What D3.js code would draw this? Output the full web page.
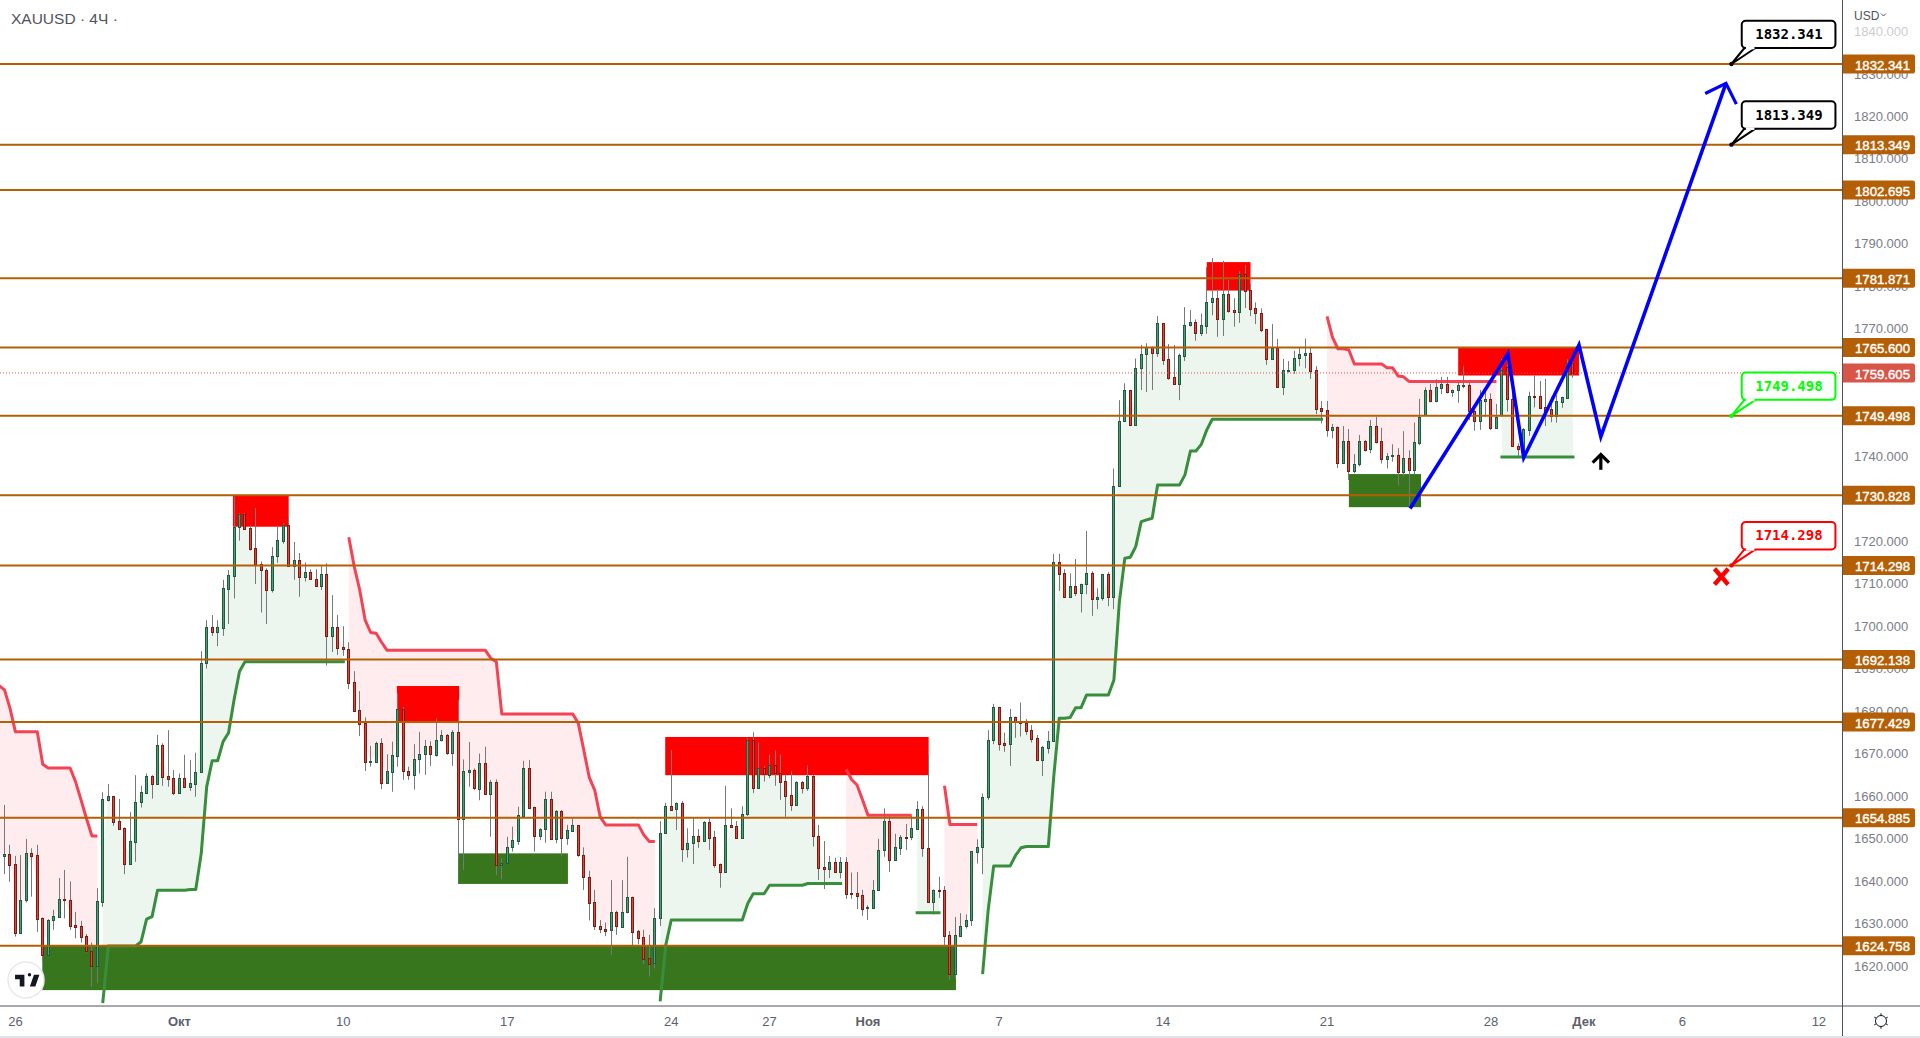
<!DOCTYPE html>
<html><head><meta charset="utf-8">
<script src="https://cdn.jsdelivr.net/npm/d3@7/dist/d3.min.js"></script>
<style>html,body{margin:0;padding:0;background:#fff;overflow:hidden}svg{display:block}</style>
</head><body><svg id="c" width="1920" height="1038"></svg>
<script>
const opens=[1645.9,1646.3,1643.9,1627.8,1635.4,1646.5,1646.1,1631.2,1622.6,1630.7,
1631.5,1635.7,1635.4,1629.6,1629.3,1627.0,1623.4,1620.0,1635.1,1659.1,
1659.9,1654.0,1652.4,1644.1,1649.2,1658.7,1660.8,1664.6,1662.9,1671.9,
1664.6,1664.2,1660.8,1664.2,1662.2,1662.9,1665.6,1691.2,1699.7,1698.7,
1699.6,1708.8,1711.9,1723.3,1726.3,1723.0,1718.3,1714.7,1713.1,1708.6,
1716.4,1720.1,1723.7,1714.1,1715.5,1711.6,1712.7,1711.0,1709.5,1712.2,
1697.7,1699.9,1695.0,1694.5,1686.8,1680.2,1677.1,1667.9,1668.1,1672.4,
1663.1,1665.7,1669.5,1680.6,1666.0,1665.0,1668.6,1669.9,1671.7,1669.6,
1673.1,1674.3,1670.2,1675.0,1654.5,1665.7,1666.1,1661.7,1667.7,1660.5,
1663.2,1643.7,1644.3,1648.1,1649.4,1655.4,1666.5,1657.3,1650.7,1652.2,
1659.4,1649.9,1656.4,1650.2,1651.8,1653.1,1646.2,1640.9,1635.0,1629.5,
1628.8,1628.4,1632.8,1629.2,1632.6,1636.2,1628.2,1626.7,1621.8,1620.6,
1631.2,1651.4,1657.6,1656.9,1658.3,1647.6,1649.0,1650.5,1649.5,1653.8,
1650.3,1643.9,1642.2,1653.1,1652.9,1650.2,1655.7,1673.1,1662.0,1666.5,
1665.0,1667.2,1665.3,1663.5,1660.2,1658.0,1663.2,1662.0,1664.6,1650.5,
1643.2,1642.7,1644.4,1642.2,1644.4,1637.2,1637.1,1636.6,1633.6,1633.7,
1637.8,1647.4,1654.0,1645.0,1647.8,1650.4,1650.3,1652.3,1656.9,1647.7,
1635.1,1637.9,1637.8,1627.2,1618.2,1627.1,1629.5,1630.7,1646.9,1647.9,
1659.7,1673.3,1680.9,1672.4,1672.2,1678.5,1677.7,1677.2,1675.5,1673.6,
1668.4,1671.4,1673.0,1715.0,1712.4,1706.9,1709.4,1707.9,1710.0,1712.4,
1706.5,1706.7,1712.2,1706.9,1733.1,1748.4,1755.5,1747.4,1760.7,1764.0,
1765.6,1764.4,1771.3,1762.8,1758.6,1757.1,1763.7,1770.8,1771.5,1769.1,
1770.7,1776.2,1777.2,1772.4,1778.1,1774.4,1774.0,1782.8,1779.1,1774.8,
1773.6,1769.9,1763.0,1765.5,1756.4,1760.1,1760.4,1763.1,1763.9,1764.2,
1760.2,1751.3,1750.8,1746.2,1746.8,1738.5,1743.5,1736.6,1738.1,1743.5,
1741.6,1747.0,1743.5,1739.4,1740.0,1740.2,1736.4,1739.5,1736.8,1743.2,
1749.6,1755.6,1753.1,1756.1,1756.9,1755.2,1755.6,1756.6,1756.8,1750.7,
1748.4,1753.1,1753.4,1746.7,1749.6,1761.1,1753.4,1742.5,1739.9,1746.2,
1754.2,1754.1,1751.5,1751.1,1749.5,1752.8,1753.8,1761.9];
const closes=[1646.3,1643.8,1627.8,1635.4,1646.5,1645.9,1631.1,1622.6,1630.8,1631.7,
1635.7,1635.4,1629.5,1629.2,1626.9,1623.4,1620.0,1635.2,1659.2,1659.9,
1653.9,1652.3,1644.1,1649.3,1658.7,1660.9,1664.6,1662.9,1671.9,1664.5,
1664.1,1660.8,1664.2,1662.2,1663.0,1665.6,1691.3,1699.8,1698.7,1699.7,
1708.9,1712.0,1723.3,1726.3,1722.9,1718.2,1714.6,1713.1,1708.6,1716.4,
1720.2,1723.7,1714.1,1715.5,1711.6,1712.7,1711.0,1709.5,1712.2,1697.7,
1699.9,1694.9,1694.5,1686.7,1680.1,1677.0,1667.9,1668.2,1672.4,1663.1,
1665.9,1669.6,1680.6,1665.9,1665.0,1668.6,1670.0,1671.7,1669.8,1673.1,
1674.3,1670.2,1675.0,1654.5,1665.9,1666.1,1661.8,1667.7,1660.5,1663.2,
1643.7,1644.3,1648.1,1649.6,1655.5,1666.5,1657.2,1650.7,1652.2,1659.4,
1649.9,1656.4,1650.2,1651.9,1653.2,1646.2,1640.9,1634.9,1629.5,1628.8,
1628.3,1632.8,1629.3,1632.6,1636.2,1628.1,1626.6,1621.7,1620.5,1631.2,
1651.4,1657.6,1656.8,1658.3,1647.6,1649.0,1650.5,1649.5,1653.8,1650.2,
1643.8,1642.2,1653.1,1652.7,1650.2,1655.7,1673.2,1662.0,1666.5,1665.1,
1667.2,1665.3,1663.4,1660.1,1658.0,1663.2,1662.0,1664.6,1650.5,1643.1,
1642.7,1644.4,1642.2,1644.4,1637.0,1636.9,1636.5,1633.5,1633.8,1637.8,
1647.4,1654.0,1645.0,1647.9,1650.3,1650.2,1652.4,1656.9,1647.7,1635.1,
1637.8,1637.7,1627.1,1618.2,1627.2,1629.5,1630.7,1647.0,1647.9,1659.7,
1673.3,1680.9,1672.3,1672.1,1678.5,1677.7,1677.1,1675.4,1673.5,1668.4,
1671.5,1672.9,1715.0,1712.3,1706.9,1709.4,1707.9,1710.0,1712.4,1706.5,
1706.8,1712.2,1706.9,1733.1,1748.4,1755.5,1747.4,1760.7,1764.0,1765.6,
1764.4,1771.3,1762.7,1758.5,1757.1,1763.8,1770.8,1771.5,1769.1,1770.8,
1776.2,1777.2,1772.4,1778.1,1774.3,1774.0,1782.8,1779.0,1774.7,1773.6,
1769.8,1763.0,1765.5,1756.4,1760.2,1760.4,1763.1,1764.0,1764.2,1760.1,
1751.2,1750.7,1746.2,1746.8,1738.5,1743.5,1736.6,1738.1,1743.5,1741.5,
1747.0,1743.4,1739.4,1740.0,1740.2,1736.4,1739.5,1736.8,1743.3,1749.3,
1755.6,1753.1,1756.2,1756.9,1755.2,1755.7,1756.8,1756.8,1750.7,1748.4,
1753.2,1753.4,1746.7,1749.3,1760.3,1753.4,1742.5,1741.6,1746.3,1754.2,
1754.0,1751.4,1750.1,1749.5,1753.0,1753.9,1761.9,1759.6];
const highs=[1657.9,1648.5,1645.9,1646.1,1649.9,1647.7,1648.5,1631.4,1631.0,1633.2,
1640.7,1642.6,1639.9,1632.7,1630.6,1627.5,1625.5,1638.3,1660.9,1662.8,
1659.9,1659.3,1652.6,1656.2,1664.9,1662.4,1665.3,1664.9,1674.4,1672.4,
1675.5,1666.1,1665.3,1669.7,1668.5,1670.2,1694.1,1701.4,1702.6,1701.4,
1710.9,1713.2,1730.5,1726.6,1726.6,1723.7,1727.8,1715.2,1713.6,1718.6,
1723.6,1724.2,1725.6,1719.8,1717.2,1715.0,1713.4,1713.4,1714.2,1714.8,
1707.3,1702.6,1700.0,1696.2,1689.4,1684.7,1678.5,1671.8,1672.8,1673.6,
1669.8,1672.8,1684.2,1681.0,1666.9,1672.2,1675.1,1673.2,1672.9,1678.3,
1675.5,1674.6,1675.5,1682.6,1668.6,1672.7,1666.5,1670.0,1671.6,1663.8,
1663.9,1645.3,1650.4,1652.8,1657.5,1668.3,1668.5,1657.5,1652.4,1661.0,
1661.0,1656.7,1656.7,1653.2,1654.7,1653.1,1647.9,1642.4,1637.9,1630.8,
1630.2,1640.2,1633.0,1640.2,1645.7,1636.3,1628.5,1628.5,1627.3,1633.6,
1654.1,1658.4,1670.8,1658.5,1658.8,1652.4,1654.8,1652.2,1654.1,1654.8,
1651.8,1644.1,1662.4,1657.1,1654.1,1657.6,1673.6,1675.0,1672.6,1667.1,
1669.7,1670.8,1669.7,1664.9,1665.9,1663.5,1663.5,1667.2,1664.9,1653.2,
1649.4,1645.9,1645.5,1645.6,1645.6,1642.0,1642.1,1637.9,1634.3,1640.2,
1649.9,1657.1,1655.5,1651.1,1650.8,1653.4,1655.4,1658.8,1657.6,1669.7,
1638.0,1641.0,1638.8,1628.2,1631.5,1632.4,1632.1,1647.0,1649.8,1660.6,
1675.5,1681.7,1681.0,1674.9,1680.5,1678.7,1682.0,1678.1,1676.7,1674.4,
1671.8,1675.3,1717.0,1717.0,1713.4,1712.4,1715.8,1710.0,1722.4,1712.9,
1708.9,1712.3,1712.7,1737.1,1753.2,1757.2,1755.6,1763.0,1766.2,1766.6,
1765.8,1773.0,1771.4,1766.4,1766.2,1764.2,1775.1,1774.4,1772.2,1773.6,
1784.5,1786.6,1779.3,1786.0,1781.5,1777.2,1783.6,1785.0,1780.5,1776.2,
1774.8,1769.9,1771.1,1767.6,1762.9,1762.4,1764.8,1765.6,1767.7,1765.6,
1761.2,1753.0,1753.0,1747.6,1747.0,1747.1,1746.4,1740.5,1745.0,1743.8,
1748.5,1749.3,1746.7,1740.7,1742.8,1741.9,1745.9,1741.4,1747.9,1753.5,
1756.2,1757.0,1758.1,1758.7,1758.7,1755.7,1757.8,1761.3,1757.2,1751.7,
1755.6,1755.6,1754.8,1752.3,1762.9,1764.6,1755.6,1743.0,1746.6,1755.2,
1759.1,1757.7,1758.2,1754.0,1754.4,1754.0,1762.8,1762.6];
const lows=[1641.6,1639.8,1626.9,1627.8,1634.9,1636.3,1628.0,1621.0,1622.6,1628.5,
1631.3,1631.2,1628.5,1626.5,1625.5,1623.1,1615.1,1615.9,1633.9,1658.7,
1653.0,1652.1,1641.6,1644.1,1644.5,1657.3,1660.8,1659.4,1662.9,1662.4,
1662.2,1660.2,1660.8,1662.0,1661.2,1659.8,1665.6,1690.0,1697.7,1695.3,
1697.7,1700.5,1706.5,1720.1,1722.9,1717.8,1709.9,1703.2,1700.5,1707.9,
1714.9,1719.4,1714.0,1710.9,1706.9,1710.5,1710.9,1709.3,1708.5,1690.7,
1693.9,1693.2,1693.0,1685.2,1680.1,1674.1,1665.9,1666.9,1667.9,1661.6,
1663.0,1661.0,1666.9,1663.8,1663.8,1661.5,1665.3,1665.0,1667.1,1669.3,
1672.8,1669.7,1667.1,1645.3,1642.6,1662.2,1661.4,1659.0,1660.5,1650.4,
1641.4,1640.4,1644.3,1646.9,1648.5,1655.4,1657.1,1646.9,1649.6,1649.0,
1649.8,1648.9,1645.9,1648.5,1651.6,1645.7,1637.9,1630.7,1628.5,1627.7,
1627.0,1622.6,1627.3,1629.1,1632.4,1624.9,1625.1,1620.4,1617.5,1619.4,
1629.4,1651.2,1656.5,1652.0,1644.5,1645.5,1644.0,1647.8,1649.5,1647.3,
1643.1,1638.4,1642.2,1652.5,1650.0,1650.0,1655.3,1660.7,1661.8,1663.4,
1664.2,1662.4,1659.1,1655.1,1656.5,1657.8,1660.6,1661.2,1648.1,1640.2,
1638.1,1640.7,1642.2,1640.6,1635.8,1635.8,1633.4,1631.8,1630.8,1633.4,
1637.7,1645.7,1642.1,1644.9,1646.1,1647.3,1649.6,1652.0,1645.7,1634.9,
1632.1,1636.0,1624.9,1616.7,1617.1,1626.9,1628.8,1629.4,1644.1,1641.6,
1659.1,1672.2,1670.7,1670.4,1667.1,1673.7,1674.0,1674.4,1672.6,1668.2,
1664.7,1670.0,1672.9,1708.3,1706.9,1706.9,1707.1,1703.2,1707.5,1702.4,
1704.0,1706.0,1704.7,1704.0,1732.8,1748.4,1747.4,1747.4,1755.6,1755.1,
1755.6,1763.4,1761.5,1758.0,1757.1,1753.2,1762.4,1770.5,1767.2,1768.3,
1768.8,1773.2,1768.1,1768.3,1773.8,1770.5,1771.4,1774.9,1773.0,1771.1,
1769.2,1761.5,1763.0,1756.4,1754.4,1759.7,1759.4,1761.2,1760.7,1758.2,
1749.9,1747.7,1744.6,1744.2,1737.2,1738.3,1734.4,1736.0,1737.6,1741.1,
1740.7,1743.0,1738.3,1737.1,1738.7,1733.1,1735.2,1728.1,1735.8,1742.6,
1749.6,1752.7,1752.7,1754.6,1754.8,1754.0,1752.6,1756.0,1748.5,1746.0,
1746.2,1749.3,1746.2,1746.6,1749.3,1750.5,1742.2,1739.7,1739.5,1744.8,
1751.5,1751.3,1747.1,1748.0,1747.9,1751.4,1753.8,1758.5];

// Supertrend runs: first bar of each run, then the value at every bar of the run
const downStarts=[-1,63,154,172,242];
const downRuns=[
[1686,1685,1680.7,1675.1,1675.1,1675.1,1675.1,1675.1,1667.5,1666.6,1666.6,1666.6,1666.6,1666.6,1663.4,1659.1,1654.7,1650.6,1650.6],
[1720.9,1714.0,1708.5,1701.4,1698.5,1698.3,1696.2,1694.3,1694.3,1694.3,1694.3,1694.3,1694.3,1694.3,1694.3,1694.3,1694.3,1694.3,1694.3,1694.3,1694.3,1694.3,1694.3,1694.3,1694.3,1694.3,1692.4,1691.6,1679.3,1679.3,1679.3,1679.3,1679.3,1679.3,1679.3,1679.3,1679.3,1679.3,1679.3,1679.3,1679.3,1679.3,1677.1,1670.8,1664.4,1661.4,1655.1,1653.2,1653.2,1653.2,1653.2,1653.2,1653.2,1653.2,1650.8,1649.3,1649.3],
[1666.3,1663.9,1662.6,1659.1,1655.5,1655.5,1655.5,1655.5,1655.5,1655.5,1655.5,1655.5,1655.5],
[1662.4,1653.3,1653.3,1653.3,1653.3,1653.3,1653.3],
[1772.9,1768.0,1765.3,1765.3,1765.0,1761.7,1761.7,1761.7,1761.7,1761.7,1761.7,1760.8,1760.8,1758.9,1758.7,1757.6,1757.6,1757.6,1757.6,1757.6,1757.6,1757.6,1757.6,1757.6,1757.6,1757.6,1757.6,1757.6,1757.6,1757.6,1757.6,1757.6]
];
const upStarts=[18,120,167,179,274];
const upRuns=[
[1611.6,1624.7,1624.7,1624.7,1624.7,1624.7,1624.7,1625.7,1631.0,1631.6,1637.8,1637.8,1637.8,1637.8,1637.8,1637.8,1638.0,1638.0,1646.5,1662.2,1668.3,1668.3,1672.8,1674.9,1682.6,1689.3,1691.6,1691.6,1691.6,1691.6,1691.6,1691.6,1691.6,1691.6,1691.6,1691.6,1691.6,1691.6,1691.6,1691.6,1691.6,1691.6,1691.6,1691.6,1691.6],
[1612.0,1624.9,1630.8,1630.8,1630.8,1630.8,1630.8,1630.8,1630.8,1630.8,1630.8,1630.8,1630.8,1630.8,1630.8,1630.8,1634.7,1637.0,1637.0,1637.0,1639.0,1639.0,1639.0,1639.0,1639.0,1639.0,1639.0,1639.4,1639.4,1639.4,1639.4,1639.4,1639.4,1639.4],
[1632.5,1632.5,1632.5,1632.5,1632.5],
[1618.4,1633.2,1643.5,1643.5,1643.5,1643.5,1646.0,1647.8,1648.1,1648.1,1648.1,1648.1,1648.1,1664.6,1678.3,1678.3,1678.5,1680.8,1680.8,1683.8,1683.8,1683.8,1683.8,1683.8,1687.3,1705.7,1716.0,1716.2,1718.7,1724.6,1725.0,1725.4,1733.2,1733.2,1733.2,1733.2,1733.2,1735.6,1741.2,1741.2,1742.8,1746.2,1748.7,1748.7,1748.7,1748.7,1748.7,1748.7,1748.7,1748.7,1748.7,1748.7,1748.7,1748.7,1748.7,1748.7,1748.7,1748.7,1748.7,1748.7,1748.7,1748.7,1748.7],
[1739.8,1739.8,1739.8,1739.8,1739.8,1739.8,1739.8,1739.8,1739.8,1739.8,1739.8,1739.8,1739.8,1739.8]
];

const levels=[1832.341,1813.349,1802.695,1781.871,1765.600,1749.498,1730.828,1714.298,1692.138,1677.429,1654.885,1624.758];
const yTicks=[1620,1630,1640,1650,1660,1670,1680,1690,1700,1710,1720,1730,1740,1750,1760,1770,1780,1790,1800,1810,1820,1830,1840];
const lastPrice=1759.605;
const xTickBars=[2,32,62,92,122,140,158,182,212,242,272,289,307,332];
const xTickLabels=["26","Окт","10","17","24","27","Ноя","7","14","21","28","Дек","6","12"];
const xTickBold=["Окт","Ноя","Дек"];
// zones: [first bar, last bar, top price, bottom price]
const redZones=[[41.8,52,1730.828,1723.4],[71.8,83.2,1685.9,1677.429],[120.9,169.1,1673.9,1664.9],[220,228,1785.7,1779],[266,288.1,1765.6,1759]];
const greenZones=[[6.92,174.1,1624.758,1614.3],[83,103.1,1646.5,1639.3],[246,259.2,1735.8,1728]];
const forecastBars=[257.2,275.1,278,288.1,292.1,315];
const forecastPrices=[1727.7,1764.1,1739.7,1766.2,1744.6,1827.8];
const arrowHeadBars=[311.2,315,316.9];
const arrowHeadPrices=[1825.4,1827.8,1822.9];
const callouts=[
 {v:"1832.341",p:1832.341,c:"#000000"},
 {v:"1813.349",p:1813.349,c:"#000000"},
 {v:"1749.498",p:1749.498,c:"#00ff00"},
 {v:"1714.298",p:1714.298,c:"#ff0000"}];
const calloutBar=316;

const BRN="#b45f06", UP_LINE="#388e3c", DN_LINE="#f23a4c";
const x=d3.scaleLinear().domain([0,287]).range([4.5,4.5+5.465*287]);
const y=d3.scaleLinear().domain([1624.758,1832.341]).range([945.7,64]);
const W=1920,H=1038,AX=1842,AY=1005.5;
const svg=d3.select("#c");
svg.append("defs").append("clipPath").attr("id","plot").append("rect").attr("width",AX).attr("height",AY);
const plot=svg.append("g").attr("clip-path","url(#plot)");
const mid=i=>{const k=Math.max(0,Math.min(287,i));return (opens[k]+closes[k])/2;};

// trend fills
function runs(starts,rs){return rs.map((r,j)=>r.map((v,k)=>({i:starts[j]+k,v})));}
const down=runs(downStarts,downRuns), up=runs(upStarts,upRuns);
const area=d3.area().x(d=>x(d.i)).y0(d=>y(d.v)).y1(d=>y(mid(d.i)));
plot.selectAll("path.fd").data(down).join("path").attr("d",area).attr("fill","#ffecee");
plot.selectAll("path.fu").data(up).join("path").attr("d",area).attr("fill","#edf6ee");

// zones
const zone=(data,col)=>plot.append("g").selectAll("rect").data(data).join("rect")
 .attr("x",d=>x(d[0])).attr("width",d=>x(d[1])-x(d[0])).attr("y",d=>y(d[2])).attr("height",d=>y(d[3])-y(d[2])).attr("fill",col);
zone(redZones,"#ff0000"); zone(greenZones,"#38761d");

// candles
const idx=d3.range(opens.length);
const cg=plot.append("g");
cg.selectAll("line").data(idx).join("line")
 .attr("x1",i=>Math.floor(x(i))+.5).attr("x2",i=>Math.floor(x(i))+.5)
 .attr("y1",i=>y(highs[i])).attr("y2",i=>y(lows[i])).attr("stroke","#787878").attr("stroke-width",1);
cg.selectAll("rect").data(idx).join("rect")
 .attr("x",i=>Math.floor(x(i))-.5).attr("width",2)
 .attr("y",i=>Math.round(y(Math.max(opens[i],closes[i])))+.5)
 .attr("height",i=>Math.max(1,Math.round(y(Math.min(opens[i],closes[i])))-Math.round(y(Math.max(opens[i],closes[i])))))
 .attr("fill",i=>closes[i]>=opens[i]?"#4f9e78":"#e0463b")
 .attr("stroke",i=>closes[i]>=opens[i]?"#1d5a3e":"#7a1c12").attr("stroke-width",1);

// trend lines
const ln=d3.line().x(d=>x(d.i)).y(d=>y(d.v));
plot.append("g").selectAll("path").data(down).join("path").attr("d",ln).attr("fill","none").attr("stroke",DN_LINE).attr("stroke-width",3).attr("stroke-opacity",.95).attr("stroke-linejoin","round");
plot.append("g").selectAll("path").data(up).join("path").attr("d",ln).attr("fill","none").attr("stroke",UP_LINE).attr("stroke-width",3).attr("stroke-linecap","square").attr("stroke-linejoin","round");

// levels
plot.append("g").selectAll("line").data(levels).join("line").attr("x1",0).attr("x2",AX)
 .attr("y1",d=>y(d)).attr("y2",d=>y(d)).attr("stroke",BRN).attr("stroke-width",2);
plot.append("line").attr("x1",0).attr("x2",AX).attr("y1",y(lastPrice)).attr("y2",y(lastPrice))
 .attr("stroke","#d85548").attr("stroke-width",1).attr("stroke-dasharray","1 2");

// forecast path
const pl=d3.line().x(d=>x(d[0])).y(d=>y(d[1]));
plot.append("path").attr("d",pl(d3.zip(forecastBars,forecastPrices))).attr("fill","none").attr("stroke","#0000ff").attr("stroke-width",3.6).attr("stroke-linejoin","miter").attr("stroke-miterlimit",10);
plot.append("path").attr("d",pl(d3.zip(arrowHeadBars,arrowHeadPrices))).attr("fill","none").attr("stroke","#0000ff").attr("stroke-width",3.2).attr("stroke-linejoin","miter");

// black up arrow
plot.append("path").attr("d",pl([[292.1,1736.8],[292.1,1740.4]])).attr("stroke","#000").attr("stroke-width",3.2).attr("fill","none");
plot.append("path").attr("d",pl([[290.6,1738.5],[292.1,1740.4],[293.6,1738.5]])).attr("stroke","#000").attr("stroke-width",3.2).attr("fill","none");
// red cross
plot.append("path").attr("d",pl([[312.9,1713.5],[315.4,1709.8]])).attr("stroke","#ff0000").attr("stroke-width",4.4).attr("fill","none");
plot.append("path").attr("d",pl([[315.4,1713.5],[312.9,1709.8]])).attr("stroke","#ff0000").attr("stroke-width",4.4).attr("fill","none");

// callouts
const cal=svg.append("g").selectAll("g").data(callouts).join("g")
 .attr("transform",d=>`translate(${x(calloutBar)},${y(d.p)})`);
cal.append("path").attr("d","M0 0L13 -16L24 -16L0 0Z").attr("fill","#fff").attr("stroke",d=>d.c).attr("stroke-width",2).attr("stroke-linejoin","round");
cal.append("rect").attr("x",10.3).attr("y",-43.3).attr("width",93.7).attr("height",27.3).attr("rx",4).attr("fill","#fff").attr("stroke",d=>d.c).attr("stroke-width",2);
cal.append("path").attr("d","M14.5 -16L23 -16").attr("stroke","#fff").attr("stroke-width",2.6);
cal.append("circle").attr("r",2.2).attr("fill",d=>d.c);
cal.append("text").attr("x",57.5).attr("y",-25).attr("text-anchor","middle").attr("fill",d=>d.c)
 .style("font","bold 14px 'DejaVu Sans Mono'").text(d=>d.v);

// axes frame
svg.append("rect").attr("x",AX).attr("width",W-AX).attr("height",H).attr("fill","#fff");
svg.append("rect").attr("y",AY).attr("width",AX).attr("height",H-AY).attr("fill","#fff");
const AF="13px 'Liberation Sans'";
svg.append("g").selectAll("text").data(yTicks).join("text").attr("x",1854).attr("y",d=>y(d)+4.6)
 .attr("fill","#7a7d86").style("font",AF).text(d=>d3.format(".3f")(d));
svg.append("rect").attr("x",AX).attr("y",0).attr("width",W-AX).attr("height",36).attr("fill","#fff").attr("opacity",.6);
svg.append("text").attr("x",1854).attr("y",19.5).attr("fill","#50535e").style("font","12px 'Liberation Sans'").text("USD");
svg.append("path").attr("d","M1881 13.5l2.5 2.5l2.5-2.5").attr("fill","none").attr("stroke","#50535e").attr("stroke-width",1);

const tag=(v,col,g)=>{g.append("path").attr("d",`M${AX} ${y(v)-9.5}h71a2 2 0 0 1 2 2v15a2 2 0 0 1-2 2h-71z`).attr("fill",col);
 g.append("text").attr("x",1855).attr("y",y(v)+5.6).attr("fill","#fff").style("font","13.2px 'Liberation Sans'").attr("stroke","#fff").attr("stroke-width",.4).text(d3.format(".3f")(v));};
const tags=svg.append("g");
levels.forEach(v=>tag(v,BRN,tags)); tag(lastPrice,"#d85548",tags);

svg.append("line").attr("x1",AX+.5).attr("x2",AX+.5).attr("y1",0).attr("y2",1036).attr("stroke","#50535e");
svg.append("line").attr("x1",0).attr("x2",W).attr("y1",AY+.5).attr("y2",AY+.5).attr("stroke","#50535e");
svg.append("rect").attr("y",1036).attr("width",W).attr("height",2).attr("fill","#e0e3eb");
svg.append("g").selectAll("text").data(xTickBars).join("text")
 .attr("x",d=>x(d)).attr("y",1025.5).attr("text-anchor","middle").attr("fill","#5d606b")
 .style("font",(d,i)=>(xTickBold.includes(xTickLabels[i])?"bold ":"")+"13px 'Liberation Sans'").text((d,i)=>xTickLabels[i]);

// header
svg.append("text").attr("x",11).attr("y",24).attr("fill","#50535e").style("font","15.5px 'Liberation Sans'").text("XAUUSD · 4Ч ·");

// logo
const lg=svg.append("g").attr("transform","translate(26,980)");
lg.append("circle").attr("r",18).attr("fill","#fff").attr("stroke","#e9e9ec").attr("stroke-width",1.5);
lg.append("path").attr("transform","translate(-12.5,-10) scale(.78)").attr("d","M14 6H2v6h6v9h6V6zm14 15h-7l5.2-15h7L28 21z").attr("fill","#131722");
lg.append("circle").attr("cx",3.5).attr("cy",-5.3).attr("r",1.7).attr("fill","#131722");

// settings glyph
const sg=svg.append("g").attr("transform","translate(1881,1021)").attr("fill","none").attr("stroke","#131722");
sg.append("circle").attr("r",5.5);
d3.range(6).forEach(k=>{const a=k*Math.PI/3+Math.PI/6;sg.append("line").attr("x1",5.5*Math.cos(a)).attr("y1",5.5*Math.sin(a)).attr("x2",7.8*Math.cos(a)).attr("y2",7.8*Math.sin(a));});
</script></body></html>
